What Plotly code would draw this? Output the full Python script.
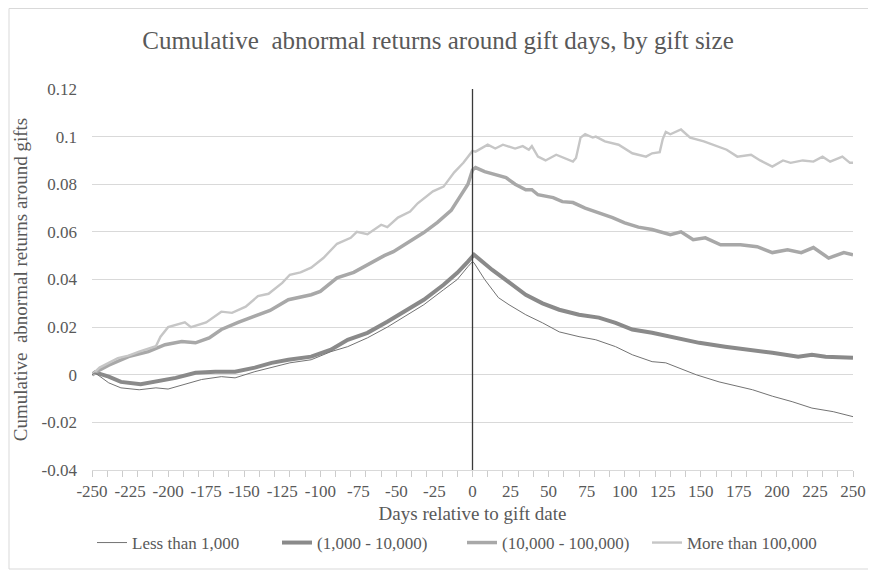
import plotly.graph_objects as go

# ---------------- data ----------------
days_lt1k = [-250, -248, -239, -231, -219, -208, -200, -189, -178, -165, -156, -143, -129, -120,
             -106, -93, -82, -69, -56, -45, -32, -19, -10, -3, 0, 1, 8, 17, 24, 35, 46, 57, 70,
             81, 94, 105, 118, 127, 147, 162, 184, 197, 210, 223, 237, 250]
car_lt1k = [0.0, 0.0008, -0.0034, -0.0055, -0.0063, -0.0055, -0.006, -0.004, -0.002, -0.0008,
            -0.0013, 0.0013, 0.0034, 0.005, 0.0063, 0.0097, 0.0118, 0.0155, 0.020, 0.0244,
            0.0294, 0.0357, 0.040, 0.0454, 0.0475, 0.047, 0.040, 0.0324, 0.0294, 0.0252,
            0.0218, 0.018, 0.016, 0.0147, 0.0118, 0.0084, 0.0055, 0.005, 0.000, -0.003,
            -0.0063, -0.009, -0.0113, -0.014, -0.0155, -0.0176]

days_1k_10k = [-250, -248, -239, -231, -218, -208, -195, -182, -169, -156, -143, -132, -121,
               -106, -93, -82, -69, -56, -45, -32, -19, -10, -3, 0, 1, 13, 24, 35, 46, 57, 70,
               83, 94, 105, 118, 135, 149, 166, 184, 197, 214, 223, 232, 250]
car_1k_10k = [0.0, 0.001, -0.0008, -0.003, -0.004, -0.003, -0.0013, 0.0008, 0.0013, 0.0013,
              0.003, 0.005, 0.0063, 0.0076, 0.0105, 0.0147, 0.0176, 0.0223, 0.0265, 0.0315,
              0.0378, 0.0428, 0.0475, 0.050, 0.0504, 0.044, 0.0386, 0.0336, 0.030, 0.0273,
              0.0252, 0.024, 0.0218, 0.019, 0.0176, 0.0155, 0.0134, 0.0118, 0.0105, 0.0092,
              0.0076, 0.0084, 0.0076, 0.0071]

days_10k_100k = [-250, -248, -239, -226, -213, -202, -191, -182, -173, -165, -154, -143, -133,
                 -121, -106, -100, -89, -78, -67, -58, -52, -41, -32, -23, -14, -8, -3, 0, 2,
                 8, 15, 22, 28, 35, 39, 43, 53, 59, 66, 74, 83, 92, 100, 109, 118, 124, 130,
                 137, 145, 153, 163, 176, 187, 197, 207, 216, 224, 234, 244, 250]
car_10k_100k = [0.0, 0.001, 0.004, 0.0076, 0.0097, 0.0126, 0.014, 0.0134, 0.0155, 0.019, 0.022,
                0.0245, 0.027, 0.0315, 0.0336, 0.035, 0.0407, 0.043, 0.047, 0.050, 0.0517,
                0.056, 0.0597, 0.064, 0.069, 0.075, 0.080, 0.086, 0.087, 0.0853, 0.084,
                0.0828, 0.080, 0.0777, 0.0777, 0.0756, 0.0744, 0.0727, 0.0723, 0.070, 0.068,
                0.066, 0.0638, 0.062, 0.061, 0.060, 0.0588, 0.060, 0.0567, 0.0575, 0.0546,
                0.0546, 0.0538, 0.0513, 0.0525, 0.0513, 0.0534, 0.049, 0.0513, 0.0504]

days_gt100k = [-250, -245, -239, -233, -226, -219, -208, -205, -200, -195, -189, -185, -175,
               -165, -158, -149, -141, -134, -125, -120, -113, -106, -98, -89, -80, -76, -69,
               -60, -56, -49, -41, -36, -26, -19, -12, -6, -1, 0, 2, 10, 15, 20, 28, 33, 37,
               39, 43, 48, 55, 61, 66, 68, 71, 74, 79, 81, 87, 96, 105, 114, 118, 123, 125,
               127, 130, 137, 143, 152, 158, 167, 174, 183, 189, 197, 204, 209, 217, 224, 230,
               235, 243, 248, 250]
car_gt100k = [0.0, 0.003, 0.005, 0.007, 0.008, 0.0097, 0.012, 0.016, 0.020, 0.021, 0.022,
              0.020, 0.022, 0.0265, 0.026, 0.0286, 0.033, 0.034, 0.0386, 0.042, 0.043, 0.045,
              0.049, 0.055, 0.0575, 0.060, 0.059, 0.063, 0.062, 0.066, 0.0685, 0.072, 0.077,
              0.079, 0.085, 0.089, 0.093, 0.094, 0.0937, 0.0966, 0.095, 0.0966, 0.095, 0.096,
              0.0945, 0.096, 0.0916, 0.090, 0.0924, 0.091, 0.0895, 0.091, 0.0996, 0.101,
              0.0996, 0.100, 0.098, 0.0966, 0.093, 0.0916, 0.093, 0.0935, 0.099, 0.102, 0.101,
              0.103, 0.0996, 0.098, 0.0966, 0.0945, 0.0916, 0.0924, 0.090, 0.0874, 0.090,
              0.089, 0.090, 0.0895, 0.0916, 0.0895, 0.0916, 0.089, 0.089]

series_names = ["Less than 1,000", "(1,000 - 10,000)", "(10,000 - 100,000)", "More than 100,000"]

x_tickvals = list(range(-250, 251, 25))
x_ticktext = [str(v) for v in x_tickvals]
y_tickvals = [-0.04, -0.02, 0, 0.02, 0.04, 0.06, 0.08, 0.1, 0.12]
y_ticktext = ["-0.04", "-0.02", "0", "0.02", "0.04", "0.06", "0.08", "0.1", "0.12"]

title_text = "Cumulative\u00a0 abnormal returns around gift days, by gift size"
x_title = "Days relative to gift date"
y_title = "Cumulative\u00a0 abnormal returns around gifts"

# ---------------- figure ----------------
FONT = "Liberation Serif, Times New Roman, serif"
TXT = "#595959"
W, H = 868, 563            # page body adds an 8px margin
L, R, T, B = 84, 23, 81, 101
PW, PH = W - L - R, H - T - B

fig = go.Figure()
styles = [
    dict(color="#737373", width=1),
    dict(color="#8a8a8a", width=4),
    dict(color="#a8a8a8", width=3.5),
    dict(color="#c6c6c6", width=2.4),
]
# first series lives on the overlaid x2 axis (same range) which carries the 10-day tick marks
xaxes_ref = ["x2", "x", "x", "x"]
for name, xs, ys, st, xa in zip(series_names,
                                [days_lt1k, days_1k_10k, days_10k_100k, days_gt100k],
                                [car_lt1k, car_1k_10k, car_10k_100k, car_gt100k],
                                styles, xaxes_ref):
    fig.add_trace(go.Scatter(x=xs, y=ys, mode="lines", name=name, line=st,
                             xaxis=xa, yaxis="y", hoverinfo="skip"))

fig.add_vline(x=0, line=dict(color="#3a3a3a", width=1.3), layer="above")

# outer chart border
fig.add_shape(type="rect", xref="paper", yref="paper",
              x0=(1 - L) / PW, x1=(900 - L) / PW,
              y0=(T + PH - 561) / PH, y1=(T + PH - 0.5) / PH,
              line=dict(color="#d9d9d9", width=1), fillcolor="rgba(0,0,0,0)", layer="below")

fig.update_layout(
    width=W, height=H,
    margin=dict(l=L, r=R, t=T, b=B, autoexpand=False),
    paper_bgcolor="white", plot_bgcolor="white",
    font=dict(family=FONT, color=TXT, size=17),
    title=dict(text=title_text, x=(438 - 8) / W, xref="container", xanchor="center",
               y=1 - 32 / H, yanchor="middle",
               font=dict(family=FONT, size=25, color=TXT)),
    showlegend=True,
    legend=dict(orientation="h", x=(454 - L) / PW, xanchor="center",
                y=(T + PH - 535) / PH, yanchor="middle",
                font=dict(family=FONT, size=17, color=TXT),
                entrywidth=140, entrywidthmode="pixels",
                itemwidth=30, tracegroupgap=0, bgcolor="rgba(0,0,0,0)"),
    xaxis=dict(range=[-250, 250], tickvals=x_tickvals, ticktext=x_ticktext,
               showgrid=False, zeroline=False, showline=True, linecolor="#d9d9d9",
               linewidth=1, ticks="", ticklabelstandoff=6,
               tickfont=dict(family=FONT, size=17, color=TXT),
               title=dict(text=x_title, standoff=6,
                          font=dict(family=FONT, size=19, color=TXT))),
    xaxis2=dict(range=[-250, 250], overlaying="x", side="bottom", anchor="y",
                tickmode="linear", tick0=-250, dtick=10, ticks="outside", ticklen=6,
                tickwidth=1, tickcolor="#cccccc",
                showticklabels=False, showgrid=False, zeroline=False, showline=False),
    yaxis=dict(range=[-0.04, 0.12], tickvals=y_tickvals, ticktext=y_ticktext,
               showgrid=True, gridcolor="#d9d9d9", gridwidth=1, zeroline=False,
               showline=False, ticks="", ticklabelstandoff=14,
               tickfont=dict(family=FONT, size=17, color=TXT),
               title=dict(text=y_title, standoff=8,
                          font=dict(family=FONT, size=19, color=TXT))),
)

fig.write_html("out.html")
